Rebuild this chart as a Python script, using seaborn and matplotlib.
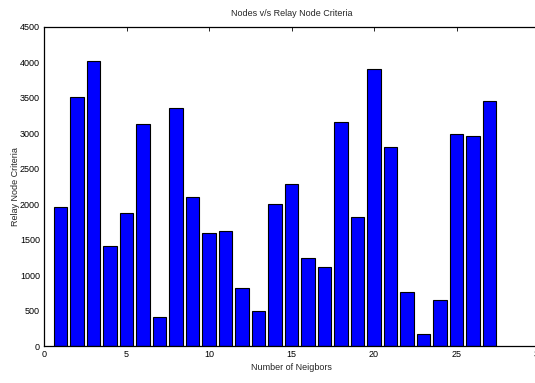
import matplotlib
matplotlib.use("Agg")
import matplotlib.pyplot as plt
import seaborn as sns
import pandas as pd

# Number of neighbours (bar positions) and relay-node criteria values
neighbors = list(range(1, 28))
criteria = [1960, 3510, 4020, 1410, 1870, 3130, 410, 3355, 2095, 1600,
            1625, 820, 490, 2000, 2280, 1245, 1115, 3155, 1815, 3910,
            2810, 755, 175, 650, 2985, 2960, 3450]
x_ticks = [0, 5, 10, 15, 20, 25, 30]
y_ticks = list(range(0, 4501, 500))

sns.set_theme(style="white")
plt.rcParams["font.family"] = ["Liberation Sans Narrow", "Liberation Sans", "DejaVu Sans"]

df = pd.DataFrame({"Neighbors": neighbors, "Criteria": criteria})

fig = plt.figure(figsize=(5.35, 3.83), dpi=100)
ax = fig.add_axes([44 / 535, 37 / 383, 495 / 535, 319 / 383])

sns.barplot(data=df, x="Neighbors", y="Criteria", native_scale=True,
            width=0.8, color=(0, 0, 1), saturation=1,
            edgecolor="black", linewidth=0.8, ax=ax)

ax.set_xlim(0, 30)
ax.set_ylim(0, 4500)
ax.set_xticks(x_ticks)
ax.set_yticks(y_ticks)
ax.tick_params(direction="in", length=3, width=0.6, labelsize=6.5,
               top=True, right=True, pad=3, colors="black")
for s in ax.spines.values():
    s.set_color("black")
    s.set_linewidth(0.9)

ax.set_xlabel("Number of Neigbors", fontsize=6.5, labelpad=3)
ax.set_ylabel("Relay Node Criteria", fontsize=6.5, labelpad=0,
              family=["Liberation Sans", "DejaVu Sans"])
ax.set_title("Nodes v/s Relay Node Criteria", fontsize=6.5, pad=8)

fig.savefig("out.png", dpi=100)
